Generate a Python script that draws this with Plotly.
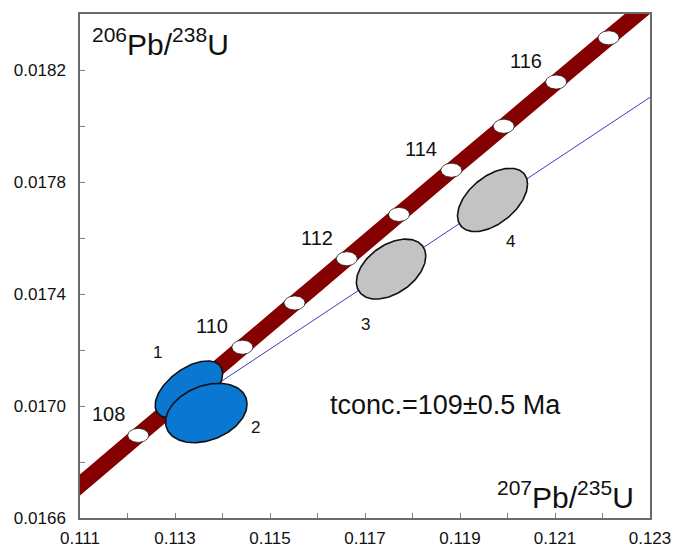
import numpy as np
import plotly.graph_objects as go

# ---------------- data ----------------
# Concordia (ages in Ma) and their 207Pb/235U, 206Pb/238U coordinates
ages = [106, 107, 108, 109, 110, 111, 112, 113, 114, 115, 116, 117, 118]
con_x = [0.110038, 0.111132, 0.112226, 0.113322, 0.114419, 0.115518, 0.116617,
         0.117717, 0.118818, 0.119921, 0.121024, 0.122129, 0.123251]
con_y = [0.016579, 0.016737, 0.016895, 0.017052, 0.017210, 0.017368, 0.017526,
         0.017684, 0.017842, 0.017999, 0.018157, 0.018315, 0.018473]
marker_ages = [108, 109, 110, 111, 112, 113, 114, 115, 116, 117]
label_ages = [108, 110, 112, 114, 116]

# Discordia line end points
disc_x = [0.111, 0.123]
disc_y = [0.0167536, 0.0181025]

# Analysis error ellipses
ell_names = ["1", "2", "3", "4"]
ell_x = [0.113292, 0.113659, 0.117549, 0.119685]
ell_y = [0.017059, 0.016975, 0.017489, 0.017736]
ell_sx = [0.000710, 0.000858, 0.000731, 0.000737]
ell_sy = [0.000102, 0.000106, 0.000107, 0.000113]
ell_rho = [0.55, 0.30, 0.43, 0.50]
ell_groups = ["blue", "blue", "grey", "grey"]

# Axis ticks
x_label_vals = [0.111, 0.113, 0.115, 0.117, 0.119, 0.121, 0.123]
x_label_text = ["0.111", "0.113", "0.115", "0.117", "0.119", "0.121", "0.123"]
x_minor_vals = [0.112, 0.114, 0.116, 0.118, 0.120, 0.122]
y_label_vals = [0.0166, 0.0170, 0.0174, 0.0178, 0.0182]
y_label_text = ["0.0166", "0.0170", "0.0174", "0.0178", "0.0182"]
y_minor_vals = [0.0168, 0.0172, 0.0176, 0.0180]

x_range = [0.111, 0.123]
y_range = [0.0166, 0.0184]

tconc_text = "tconc.=109±0.5 Ma"

# ---------------- layout / style ----------------
W, H = 673, 547
ML, MR, MT, MB = 80, 23, 14, 29
px_x = (W - ML - MR) / (x_range[1] - x_range[0])
px_y = (H - MT - MB) / (y_range[1] - y_range[0])

FONT = "Arial, Liberation Sans, sans-serif"
fill_colors = {"blue": "#0a78d2", "grey": "#c3c3c3"}
BAND = "#850000"

fig = go.Figure()

# discordia
fig.add_trace(go.Scatter(x=disc_x, y=disc_y, mode="lines",
                         line=dict(color="#3a3ad0", width=1),
                         hoverinfo="skip", showlegend=False))

# concordia band
fig.add_trace(go.Scatter(x=con_x, y=con_y, mode="lines",
                         line=dict(color=BAND, width=16, shape="spline"),
                         hoverinfo="skip", showlegend=False))

# age markers (white ellipses)
t = np.linspace(0, 2 * np.pi, 60)
rx, ry = 10.5 / px_x, 7.0 / px_y
for a in marker_ages:
    i = ages.index(a)
    fig.add_trace(go.Scatter(x=con_x[i] + rx * np.cos(t),
                             y=con_y[i] + ry * np.sin(t),
                             mode="lines", fill="toself", fillcolor="white",
                             line=dict(color="#222222", width=0.8),
                             hoverinfo="skip", showlegend=False))

# error ellipses
t2 = np.linspace(0, 2 * np.pi, 160)
for k in range(len(ell_names)):
    r = ell_rho[k]
    ex = ell_x[k] + ell_sx[k] * np.cos(t2)
    ey = ell_y[k] + ell_sy[k] * (r * np.cos(t2) + np.sqrt(1 - r * r) * np.sin(t2))
    fig.add_trace(go.Scatter(x=ex, y=ey, mode="lines", fill="toself",
                             fillcolor=fill_colors[ell_groups[k]],
                             line=dict(color="#111111", width=1.6),
                             hoverinfo="skip", showlegend=False))

annotations = []
# age labels
for a in label_ages:
    i = ages.index(a)
    annotations.append(dict(x=con_x[i], y=con_y[i], xref="x", yref="y",
                            text=str(a), showarrow=False, xshift=-30, yshift=21,
                            font=dict(family=FONT, size=20, color="#111111")))
# ellipse labels
ell_shift = [(-31, 37), (49, -14), (-26, -55), (18, -42)]
for k in range(len(ell_names)):
    annotations.append(dict(x=ell_x[k], y=ell_y[k], xref="x", yref="y",
                            text=ell_names[k], showarrow=False,
                            xshift=ell_shift[k][0], yshift=ell_shift[k][1],
                            font=dict(family=FONT, size=17, color="#111111")))
# axis titles inside plot
annotations.append(dict(x=0.018, y=0.987, xref="paper", yref="paper",
                        xanchor="left", yanchor="top", showarrow=False,
                        text="<sup>206</sup>Pb/<sup>238</sup>U",
                        font=dict(family=FONT, size=30, color="#111111")))
annotations.append(dict(x=0.975, y=0.004, xref="paper", yref="paper",
                        xanchor="right", yanchor="bottom", showarrow=False,
                        text="<sup>207</sup>Pb/<sup>235</sup>U",
                        font=dict(family=FONT, size=30, color="#111111")))
annotations.append(dict(x=0.641, y=0.224, xref="paper", yref="paper",
                        xanchor="center", yanchor="middle", showarrow=False,
                        text=tconc_text,
                        font=dict(family=FONT, size=27, color="#111111")))

axis_common = dict(showgrid=False, zeroline=False, showline=True, automargin=False,
                   linecolor="#6a6a6a", linewidth=1.5, mirror=True,
                   ticks="inside", ticklen=5, tickcolor="#808080", tickwidth=1.2)

fig.update_layout(
    template="none",
    width=W, height=H,
    margin=dict(l=ML, r=MR, t=MT, b=MB, pad=0, autoexpand=False),
    paper_bgcolor="white", plot_bgcolor="white",
    showlegend=False,
    annotations=annotations,
    xaxis=dict(range=x_range, tickmode="array", tickvals=x_label_vals,
               ticktext=x_label_text, ticklabelstandoff=4,
               minor=dict(tickmode="array", tickvals=x_minor_vals, ticks="inside",
                          ticklen=5, tickcolor="#808080", tickwidth=1.2, showgrid=False),
               tickfont=dict(family=FONT, size=17, color="#111111"),
               **axis_common),
    yaxis=dict(range=y_range, tickmode="array", tickvals=y_label_vals,
               ticktext=y_label_text, ticklabelstandoff=9,
               minor=dict(tickmode="array", tickvals=y_minor_vals, ticks="inside",
                          ticklen=5, tickcolor="#808080", tickwidth=1.2, showgrid=False),
               tickfont=dict(family=FONT, size=17, color="#111111"),
               **axis_common),
)

fig.write_html("out.html", config={"displayModeBar": False},
               post_script="document.body.style.margin='0';document.body.style.overflow='hidden';")
